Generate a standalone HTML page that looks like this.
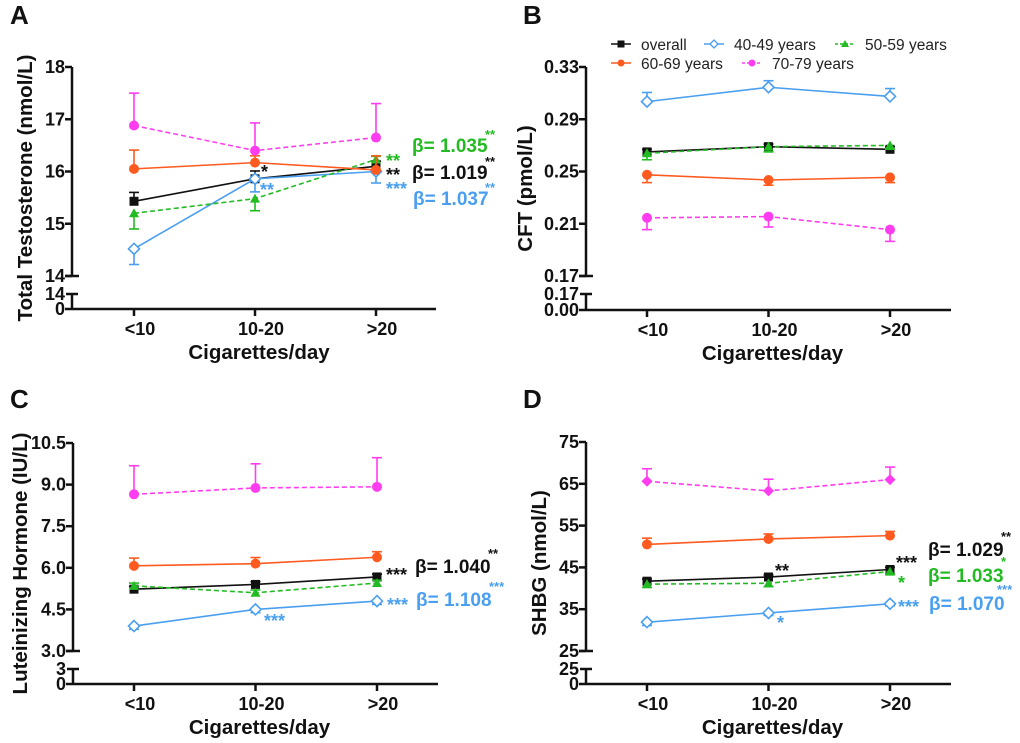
<!DOCTYPE html>
<html><head><meta charset="utf-8"><style>
html,body{margin:0;padding:0;background:#fff;}
svg{display:block;font-family:"Liberation Sans",Arial,sans-serif;font-weight:bold;}
</style></head><body>
<svg id="fig" width="1020" height="743" viewBox="0 0 1020 743" xmlns="http://www.w3.org/2000/svg"></svg>
<script>
const categories = ["<10","10-20",">20"];
const seriesNames = ["overall","40-49 years","50-59 years","60-69 years","70-79 years"];
// Panel A: Total Testosterone
const aTicks = ["14","15","16","17","18"];
const aOverall = [15.43,15.86,16.10];
const a4049 = [14.52,15.86,16.00];
const a5059 = [15.20,15.48,16.23];
const a6069 = [16.05,16.17,16.03];
const a7079 = [16.88,16.40,16.65];
const aErr = [[0.17,0.15,0.1],[-0.3,-0.25,-0.22],[-0.3,-0.23,0.06],[0.36,0.13,0.27],[0.62,0.53,0.65]];
// Panel B: CFT
const bTicks = ["0.17","0.21","0.25","0.29","0.33"];
const bOverall = [0.265,0.269,0.267];
const b4049 = [0.3035,0.3145,0.3075];
const b5059 = [0.264,0.269,0.270];
const b6069 = [0.2475,0.2435,0.2455];
const b7079 = [0.2145,0.2155,0.2055];
const bErr = [[0.002,0.002,0.002],[0.007,0.005,0.006],[-0.005,-0.004,-0.003],[-0.006,-0.004,-0.004],[-0.009,-0.008,-0.009]];
// Panel C: LH
const cTicks = ["3.0","4.5","6.0","7.5","9.0","10.5"];
const cOverall = [5.23,5.40,5.67];
const c4049 = [3.90,4.50,4.80];
const c5059 = [5.35,5.10,5.45];
const c6069 = [6.07,6.15,6.38];
const c7079 = [8.65,8.88,8.92];
const cErr = [[0.1,0.1,0.1],[-0.12,-0.12,-0.12],[0.1,0.1,0.1],[0.28,0.22,0.2],[1.03,0.87,1.05]];
// Panel D: SHBG
const dTicks = ["25","35","45","55","65","75"];
const dOverall = [41.7,42.7,44.5];
const d4049 = [31.9,34.1,36.3];
const d5059 = [41.0,41.2,44.0];
const d6069 = [50.5,51.8,52.6];
const d7079 = [65.6,63.3,66.0];
const dErr = [[0.5,0.5,0.5],[-0.8,-0.6,-0.5],[-0.8,-0.8,-0.6],[1.5,1.2,1.0],[3.0,2.8,3.0]];

const colors = ["#111111","#4a9ff0","#22bb22","#ff5a1f","#ff3cf0"];
const dashed = [false,false,true,false,true];
const NS = "http://www.w3.org/2000/svg";
const svg = document.getElementById("fig");
function el(tag, attrs, parent){const e=document.createElementNS(NS,tag);for(const k in attrs)e.setAttribute(k,attrs[k]);(parent||svg).appendChild(e);return e;}
function txt(x,y,s,size,color,anchor,parent){const t=el("text",{x:x,y:y,"font-size":size,fill:color||"#111","text-anchor":anchor||"start"},parent);t.textContent=s;return t;}

function panel(cfg){
  const g=el("g",{});
  
  
  const ax=cfg.ax, top=cfg.top, bot=cfg.bot, brk=cfg.brk, zero=cfg.zero;
  const tvals=cfg.ticks.map(Number);
  const lo=tvals[0], hi=tvals[tvals.length-1];
  const yS=v=>bot-(v-lo)/(hi-lo)*(bot-top);
  const xS=i=>cfg.x0+i*(cfg.x2-cfg.x0)/2;
  const L=txt(cfg.letterX,cfg.letterY,cfg.letter,26,"#111","start",g);
  
  
  const axis=el("g",{},g);
  
  
  el("line",{x1:ax,y1:top,x2:ax,y2:bot,stroke:"#111","stroke-width":2.5},axis);
  el("line",{x1:ax,y1:brk-1,x2:ax,y2:zero,stroke:"#111","stroke-width":2.5},axis);
  el("line",{x1:ax-6,y1:brk,x2:ax+6,y2:brk,stroke:"#111","stroke-width":2.5},axis);
  el("line",{x1:ax-7,y1:bot,x2:ax+7,y2:bot,stroke:"#111","stroke-width":2.5},axis);
  tvals.forEach((v,i)=>{const y=yS(v);el("line",{x1:ax-7,y1:y,x2:ax,y2:y,stroke:"#111","stroke-width":2.5},axis);
    const t=txt(ax-7,y+6,cfg.ticks[i],18,"#111","end",axis);});
  txt(ax-7,brk+6,cfg.brkLabel,18,"#111","end",axis);
  txt(ax-7,zero+6,cfg.zeroLabel,18,"#111","end",axis);
  const xa=el("g",{},g);
  
  
  el("line",{x1:ax-7,y1:zero,x2:cfg.xend,y2:zero,stroke:"#111","stroke-width":2.5},xa);
  categories.forEach((c,i)=>{el("line",{x1:xS(i),y1:zero,x2:xS(i),y2:zero+7,stroke:"#111","stroke-width":2.5},xa);
    const t=txt(xS(i)+6,zero+26,c,18,"#111","middle",xa);});
  const xt=txt((cfg.x0+cfg.x2)/2+4,zero+50,"Cigarettes/day",20.5,"#111","middle",g);
  
  
  const yt=txt(0,0,cfg.ytitle,20.5,"#111","middle",g);
  yt.setAttribute("transform",`translate(${cfg.ytx},${(top+zero)/2}) rotate(-90)`);
  
  
  cfg.series.forEach((vals,s)=>{
    const sg=el("g",{},g);
    
    
    const col=colors[s];
    vals.forEach((v,i)=>{const e=cfg.err[s][i];const y1=yS(v),y2=yS(v+e);
      el("line",{x1:xS(i),y1:y1,x2:xS(i),y2:y2,stroke:col,"stroke-width":1.6},sg);
      el("line",{x1:xS(i)-5,y1:y2,x2:xS(i)+5,y2:y2,stroke:col,"stroke-width":1.6},sg);});
    const pts=vals.map((v,i)=>xS(i)+","+yS(v)).join(" ");
    const pl=el("polyline",{points:pts,fill:"none",stroke:col,"stroke-width":1.6,"stroke-dasharray":dashed[s]?"5,3":"none"},sg);
    
    
    vals.forEach((v,i)=>{const x=xS(i),y=yS(v);let m;
      if(s===0)m=el("rect",{x:x-4.5,y:y-4.5,width:9,height:9,fill:col},sg);
      else if(s===1)m=el("path",{d:`M${x} ${y-5.5}L${x+5.5} ${y}L${x} ${y+5.5}L${x-5.5} ${y}Z`,fill:"#fff",stroke:col,"stroke-width":1.6},sg);
      else if(s===2)m=el("path",{d:`M${x} ${y-5}L${x+5} ${y+4}L${x-5} ${y+4}Z`,fill:col},sg);
      else if(s===4&&cfg.diamond)m=el("path",{d:`M${x} ${y-5.5}L${x+5.5} ${y}L${x} ${y+5.5}L${x-5.5} ${y}Z`,fill:col},sg);
      else m=el("circle",{cx:x,cy:y,r:5,fill:col},sg);
      
      });
  });
  (cfg.notes||[]).forEach(n=>{const t=txt(n[0],n[1],n[2],n[3],n[4],"start",g);
    
    });
}

panel({name:"panel-a-testosterone",letter:"A",letterX:10,letterY:24,ax:72,top:67,bot:276,brk:294,zero:309,brkLabel:"14",zeroLabel:"0",x0:134,x2:376,xend:436,ticks:aTicks,ytitle:"Total Testosterone (nmol/L)",ytx:32,
  series:[aOverall,a4049,a5059,a6069,a7079],err:aErr,
  notes:[[261,178,"*",18,colors[0]],[260,196,"**",18,colors[1]],[386,167,"**",18,colors[2]],[386,181,"**",18,colors[0]],[386,195,"***",18,colors[1]],
  [412,152,"β= 1.035",19,colors[2]],[485,139,"**",13,colors[2]],[412,179,"β= 1.019",19,colors[0]],[485,166,"**",13,colors[0]],[413,205,"β= 1.037",19,colors[1]],[485,192,"**",13,colors[1]]]});
panel({name:"panel-b-cft",letter:"B",letterX:523,letterY:24,ax:586,top:67,bot:276,brk:294,zero:310,brkLabel:"0.17",zeroLabel:"0.00",x0:647,x2:890,xend:951,ticks:bTicks,ytitle:"CFT (pmol/L)",ytx:532,
  series:[bOverall,b4049,b5059,b6069,b7079],err:bErr});
panel({name:"panel-c-lh",letter:"C",letterX:10,letterY:408,ax:73,top:443,bot:651,brk:669,zero:684,brkLabel:"3",zeroLabel:"0",x0:134,x2:377,xend:438,ticks:cTicks,ytitle:"Luteinizing Hormone (IU/L)",ytx:27,
  series:[cOverall,c4049,c5059,c6069,c7079],err:cErr,
  notes:[[386,581,"***",18,colors[0]],[415,573,"β= 1.040",19,colors[0]],[488,558,"**",13,colors[0]],[387,611,"***",18,colors[1]],[416,606,"β= 1.108",19,colors[1]],[489,591,"***",13,colors[1]],[264,627,"***",18,colors[1]]]});
panel({name:"panel-d-shbg",letter:"D",letterX:523,letterY:408,ax:586,top:442,bot:651,brk:669,zero:684,brkLabel:"25",zeroLabel:"0",x0:647,x2:890,xend:951,ticks:dTicks,ytitle:"SHBG (nmol/L)",ytx:546,
  series:[dOverall,d4049,d5059,d6069,d7079],err:dErr,diamond:true,
  notes:[[775,577,"**",18,colors[0]],[896,569,"***",18,colors[0]],[928,556,"β= 1.029",19,colors[0]],[1001,541,"**",13,colors[0]],[898,589,"*",18,colors[2]],[928,582,"β= 1.033",19,colors[2]],[1001,566,"*",13,colors[2]],[898,613,"***",18,colors[1]],[929,610,"β= 1.070",19,colors[1]],[997,594,"***",13,colors[1]],[777,629,"*",18,colors[1]]]});

const lg=el("g",{});


const legPos=[[611,44],[704,44],[835,44],[611,63],[742,63]];
seriesNames.forEach((n,s)=>{const [x,y]=legPos[s];const e=el("g",{},lg);
  
  
  el("line",{x1:x,y1:y,x2:x+20,y2:y,stroke:colors[s],"stroke-width":1.6,"stroke-dasharray":dashed[s]?"3,2":"none"},e);
  const cx=x+10;
  if(s===0)el("rect",{x:cx-3.5,y:y-3.5,width:7,height:7,fill:colors[s]},e);
  else if(s===1)el("path",{d:`M${cx} ${y-4}L${cx+4} ${y}L${cx} ${y+4}L${cx-4} ${y}Z`,fill:"#fff",stroke:colors[s],"stroke-width":1.3},e);
  else if(s===2)el("path",{d:`M${cx} ${y-4}L${cx+4} ${y+3}L${cx-4} ${y+3}Z`,fill:colors[s]},e);
  else el("circle",{cx:cx,cy:y,r:3.5,fill:colors[s]},e);
  const t=txt(x+30,y+6,n,15.5,"#222","start",e);t.setAttribute("font-weight","normal");});
</script>
</body></html>
